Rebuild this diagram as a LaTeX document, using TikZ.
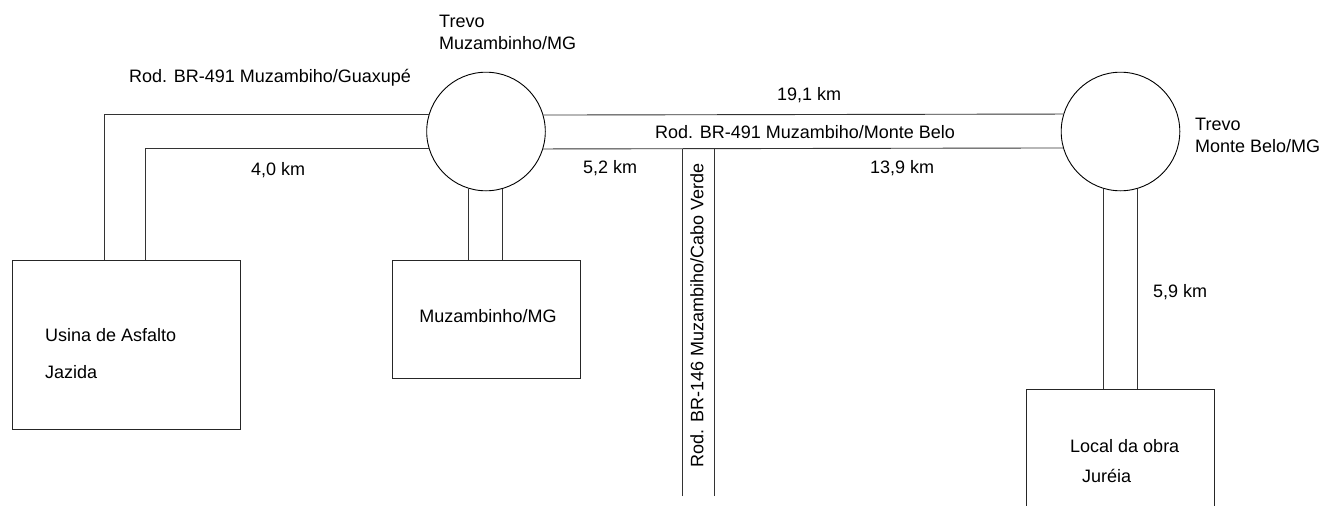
\documentclass[tikz,border=0pt]{standalone}
\usepackage{fontspec}
\setmainfont{Liberation Sans}
\usetikzlibrary{positioning}

\begin{document}
\begin{tikzpicture}[x=1pt,y=-1pt,%%
  roadStyle/.style={-,draw=black!80,line width=0.9pt},%%
  trevoStyle/.style={circle,draw=black,line width=0.9pt,inner sep=0pt,minimum size=118.6pt},%%
  boxStyle/.style={rectangle,draw=black!85,line width=0.9pt,inner sep=0pt},%%
  labelStyle/.style={inner sep=0pt,font=\fontsize{18}{22}\selectfont}%%
]
%%
%%
\pgfmathsetmacro{\radius}{59.3}
\pgfmathsetmacro{\halfRoad}{17}
\pgfmathsetmacro{\halfStub}{16.5}
\pgfmathsetmacro{\a}{asin(\halfRoad/\radius)}
\pgfmathsetmacro{\b}{asin(\halfStub/\radius)}
\pgfmathsetmacro{\angNE}{\a}
\pgfmathsetmacro{\angNW}{180-\a}
\pgfmathsetmacro{\angSW}{180+\a}
\pgfmathsetmacro{\angSE}{360-\a}
\pgfmathsetmacro{\angStubL}{270-\b}
\pgfmathsetmacro{\angStubR}{270+\b}
%%
\useasboundingbox (0,0) rectangle (1323,506);
\clip (0,0) rectangle (1323,506);
%%
%% The two trevos.
\node[trevoStyle] (trevoA) at (486,131.5) {};
\node[trevoStyle] (trevoB) at (1120.5,131.5) {};
%%
%% The three places.
\node[boxStyle,minimum width=228pt,minimum height=169.5pt] (usina) at (126,344.75) {};
\node[boxStyle,minimum width=188pt,minimum height=118pt] (muzBox) at (486,319) {};
\node[boxStyle,minimum width=188pt,minimum height=130pt] (obra) at (1120,454) {};
%%
%% Road to Guaxupe and the usina.
\draw[roadStyle] (trevoA.\angNW) -| ([xshift=-22pt]usina.north);
\draw[roadStyle] (trevoA.\angSW) -| ([xshift=19pt]usina.north);
%% Road to Monte Belo.
\draw[roadStyle] (trevoA.\angNE) -- (trevoB.\angNW);
\draw[roadStyle] (trevoA.\angSE) -- (trevoB.\angSW);
%% Short roads into town and to the obra.
\draw[roadStyle] (trevoA.\angStubL) -- (trevoA.\angStubL |- muzBox.north);
\draw[roadStyle] (trevoA.\angStubR) -- (trevoA.\angStubR |- muzBox.north);
\draw[roadStyle] (trevoB.\angStubL) -- (trevoB.\angStubL |- obra.north);
\draw[roadStyle] (trevoB.\angStubR) -- (trevoB.\angStubR |- obra.north);
%% Road to Cabo Verde.
\coordinate (cvLeft) at (682,496);
\coordinate (cvRight) at (714,496);
\draw[roadStyle] (cvLeft) -- (cvLeft |- trevoA.\angSE);
\draw[roadStyle] (cvRight) -- (cvRight |- trevoA.\angSE);
%%
%% Labels.
\node[labelStyle,anchor=west] (guaLbl) at (129,78) {Rod. BR-491 Muzambiho/Guaxupé};
\node[labelStyle,anchor=west] (km40) at (251,170) {4,0 km};
\node[labelStyle,anchor=west,align=left] (trevoALbl) at (439,32) {Trevo\\Muzambinho/MG};
\node[labelStyle,anchor=west] (km191) at (777,95) {19,1 km};
\node[labelStyle,anchor=west] (mbLbl) at (655,132) {Rod. BR-491 Muzambiho/Monte Belo};
\node[labelStyle,anchor=west] (km52) at (583,168) {5,2 km};
\node[labelStyle,anchor=west] (km139) at (870,168) {13,9 km};
\node[labelStyle,rotate=90] (cvLbl) at (697,315.5) {Rod. BR-146 Muzambiho/Cabo Verde};
\node[labelStyle,anchor=west,align=left] (trevoBLbl) at (1195,135) {Trevo\\Monte Belo/MG};
\node[labelStyle,anchor=west] (km59) at (1153,292) {5,9 km};
\node[labelStyle,anchor=west] (usinaLbl) at (45,335) {Usina de Asfalto};
\node[labelStyle,anchor=west] (jazidaLbl) at (45,372) {Jazida};
\node[labelStyle] (muzLbl) at (488,316) {Muzambinho/MG};
\node[labelStyle,anchor=west] (obraLbl) at (1070,446) {Local da obra};
\node[labelStyle,anchor=west] (jureiaLbl) at (1082,476) {Juréia};
\end{tikzpicture}
\end{document}
